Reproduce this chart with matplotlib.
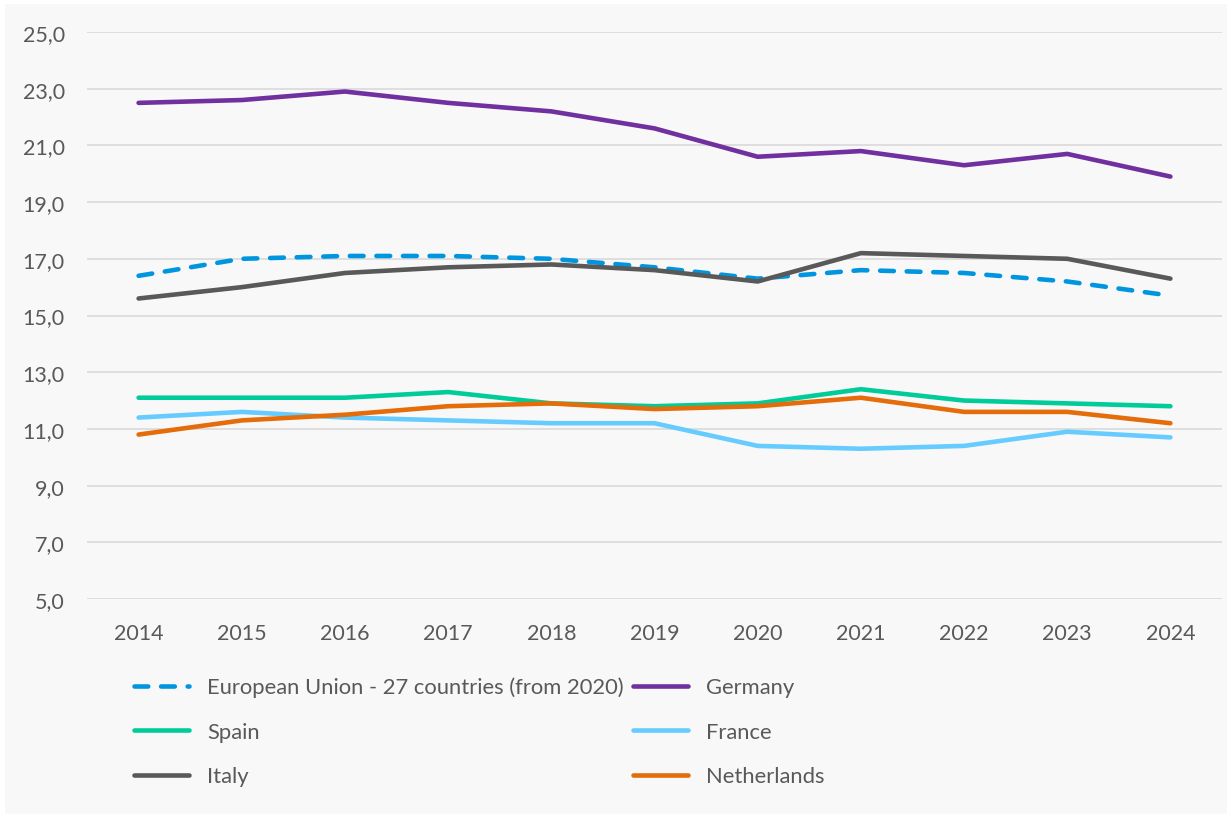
import matplotlib
matplotlib.use("Agg")
import matplotlib.pyplot as plt
from matplotlib.patches import Rectangle
from matplotlib.ticker import FuncFormatter

plt.rcParams['font.family'] = ['Lato', 'DejaVu Sans']

years = [2014, 2015, 2016, 2017, 2018, 2019, 2020, 2021, 2022, 2023, 2024]
eu = [16.4, 17.0, 17.1, 17.1, 17.0, 16.7, 16.3, 16.6, 16.5, 16.2, 15.7]
germany = [22.5, 22.6, 22.9, 22.5, 22.2, 21.6, 20.6, 20.8, 20.3, 20.7, 19.9]
spain = [12.1, 12.1, 12.1, 12.3, 11.9, 11.8, 11.9, 12.4, 12.0, 11.9, 11.8]
france = [11.4, 11.6, 11.4, 11.3, 11.2, 11.2, 10.4, 10.3, 10.4, 10.9, 10.7]
italy = [15.6, 16.0, 16.5, 16.7, 16.8, 16.6, 16.2, 17.2, 17.1, 17.0, 16.3]
netherlands = [10.8, 11.3, 11.5, 11.8, 11.9, 11.7, 11.8, 12.1, 11.6, 11.6, 11.2]

series = [
    ("European Union - 27 countries (from 2020)", eu, "#0096DF", True),
    ("Germany", germany, "#7030A0", False),
    ("Spain", spain, "#00CC99", False),
    ("France", france, "#66CCFF", False),
    ("Italy", italy, "#595959", False),
    ("Netherlands", netherlands, "#E46C0A", False),
]

fig = plt.figure(figsize=(12.32, 8.2), dpi=100)
fig.patch.set_facecolor("white")
fig.patches.append(Rectangle((5 / 1232, 5 / 820), 1222 / 1232, 810 / 820,
                             transform=fig.transFigure, facecolor="#F8F8F8",
                             edgecolor="none", zorder=-10))

ax = fig.add_axes([87 / 1232, 1 - 600 / 820, 1135 / 1232, 567 / 820])
ax.set_facecolor("none")

x = list(range(len(years)))
lines = {}
for name, vals, col, dashed in series:
    if dashed:
        ln, = ax.plot(x, vals, color=col, lw=3.3, label=name,
                      dashes=(3.0, 2.8), dash_capstyle="round", zorder=3)
    else:
        ln, = ax.plot(x, vals, color=col, lw=3.3, label=name,
                      solid_capstyle="round", solid_joinstyle="round", zorder=3)
    lines[name] = ln

ax.set_xlim(-0.5, len(years) - 0.5)
ax.set_ylim(5, 25)
ax.set_yticks([5, 7, 9, 11, 13, 15, 17, 19, 21, 23, 25])
ax.yaxis.set_major_formatter(FuncFormatter(lambda v, p: f"{v:.1f}".replace(".", ",")))
ax.set_xticks(x)
ax.set_xticklabels([str(y) for y in years])
ax.grid(axis="y", color="#D9D9D9", lw=1.2)
ax.set_axisbelow(True)
for s in ax.spines.values():
    s.set_visible(False)
ax.tick_params(length=0, labelsize=15.5, colors="#595959")
ax.tick_params(axis="x", pad=17)
ax.tick_params(axis="y", pad=16)

order = ["European Union - 27 countries (from 2020)", "Spain", "Italy",
         "Germany", "France", "Netherlands"]
leg = fig.legend([lines[n] for n in order], order, ncol=2,
                 loc="upper left", bbox_to_anchor=(114 / 1232, 1 - 658 / 820),
                 frameon=False, fontsize=15.8, handlelength=2.5, handletextpad=0.85,
                 labelspacing=1.12, columnspacing=0.4)
for t in leg.get_texts():
    t.set_color("#595959")

fig.savefig("out.png", dpi=100, facecolor=fig.get_facecolor())
